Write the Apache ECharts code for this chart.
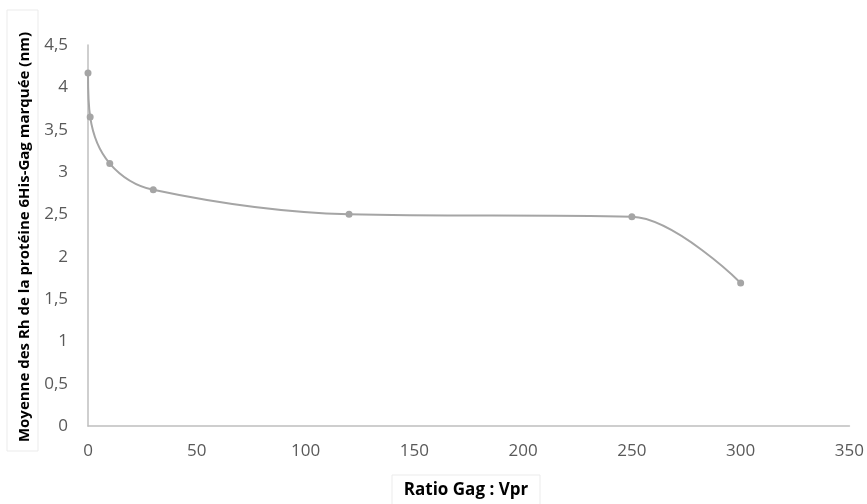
<!DOCTYPE html>
<html><head><meta charset="utf-8">
<script src="https://cdn.jsdelivr.net/npm/echarts@6/dist/echarts.min.js"></script>
<style>html,body{margin:0;padding:0;background:#fff}#c{width:867px;height:504px}</style>
</head><body><div id="c"></div>
<script>
const xValues = [0, 1, 10, 30, 120, 250, 300];
const yValues = [4.17, 3.65, 3.10, 2.79, 2.50, 2.47, 1.69];
const xTitle = 'Ratio Gag : Vpr';
const yTitle = 'Moyenne des Rh de la protéine 6His-Gag marquée (nm)';

const chart = echarts.init(document.getElementById('c'), null, {renderer: 'canvas'});
const fmt = v => String(v).replace('.', ',');
chart.setOption({
  animation: false,
  grid: {left: 88, right: 17, top: 45, bottom: 78},
  xAxis: {
    type: 'value', min: 0, max: 350, interval: 50,
    axisLine: {show: true, lineStyle: {color: '#bfbfbf', width: 1.5}},
    axisTick: {show: false},
    splitLine: {show: false},
    axisLabel: {color: '#595959', fontSize: 17, fontFamily: 'Open Sans', margin: 17, formatter: fmt}
  },
  yAxis: {
    type: 'value', min: 0, max: 4.5, interval: 0.5,
    axisLine: {show: true, lineStyle: {color: '#bfbfbf', width: 1.5}},
    axisTick: {show: false},
    splitLine: {show: false},
    axisLabel: {color: '#595959', fontSize: 17, fontFamily: 'Open Sans', margin: 20, formatter: fmt}
  },
  graphic: [
    {type: 'rect', shape: {x: 392, y: 475, width: 148, height: 40},
     style: {fill: '#fff', stroke: '#ebebeb', lineWidth: 1}},
    {type: 'text', x: 466, y: 490, style: {text: xTitle, font: 'bold 17px "Open Sans"', fill: '#000', textAlign: 'center', textVerticalAlign: 'middle'}},
    {type: 'rect', shape: {x: 7, y: 10, width: 31, height: 441},
     style: {fill: '#fff', stroke: '#ebebeb', lineWidth: 1}},
    {type: 'text', x: 25, y: 237, rotation: Math.PI / 2,
     style: {text: yTitle, font: 'bold 15px "Open Sans"', fill: '#000', textAlign: 'center', textVerticalAlign: 'middle'}}
  ],
  series: [{
    type: 'line',
    data: xValues.map((x, i) => [x, yValues[i]]),
    smooth: 0.35,
    symbol: 'circle', symbolSize: 7,
    lineStyle: {color: '#a5a5a5', width: 2},
    itemStyle: {color: '#a5a5a5'}
  }]
});
</script></body></html>
